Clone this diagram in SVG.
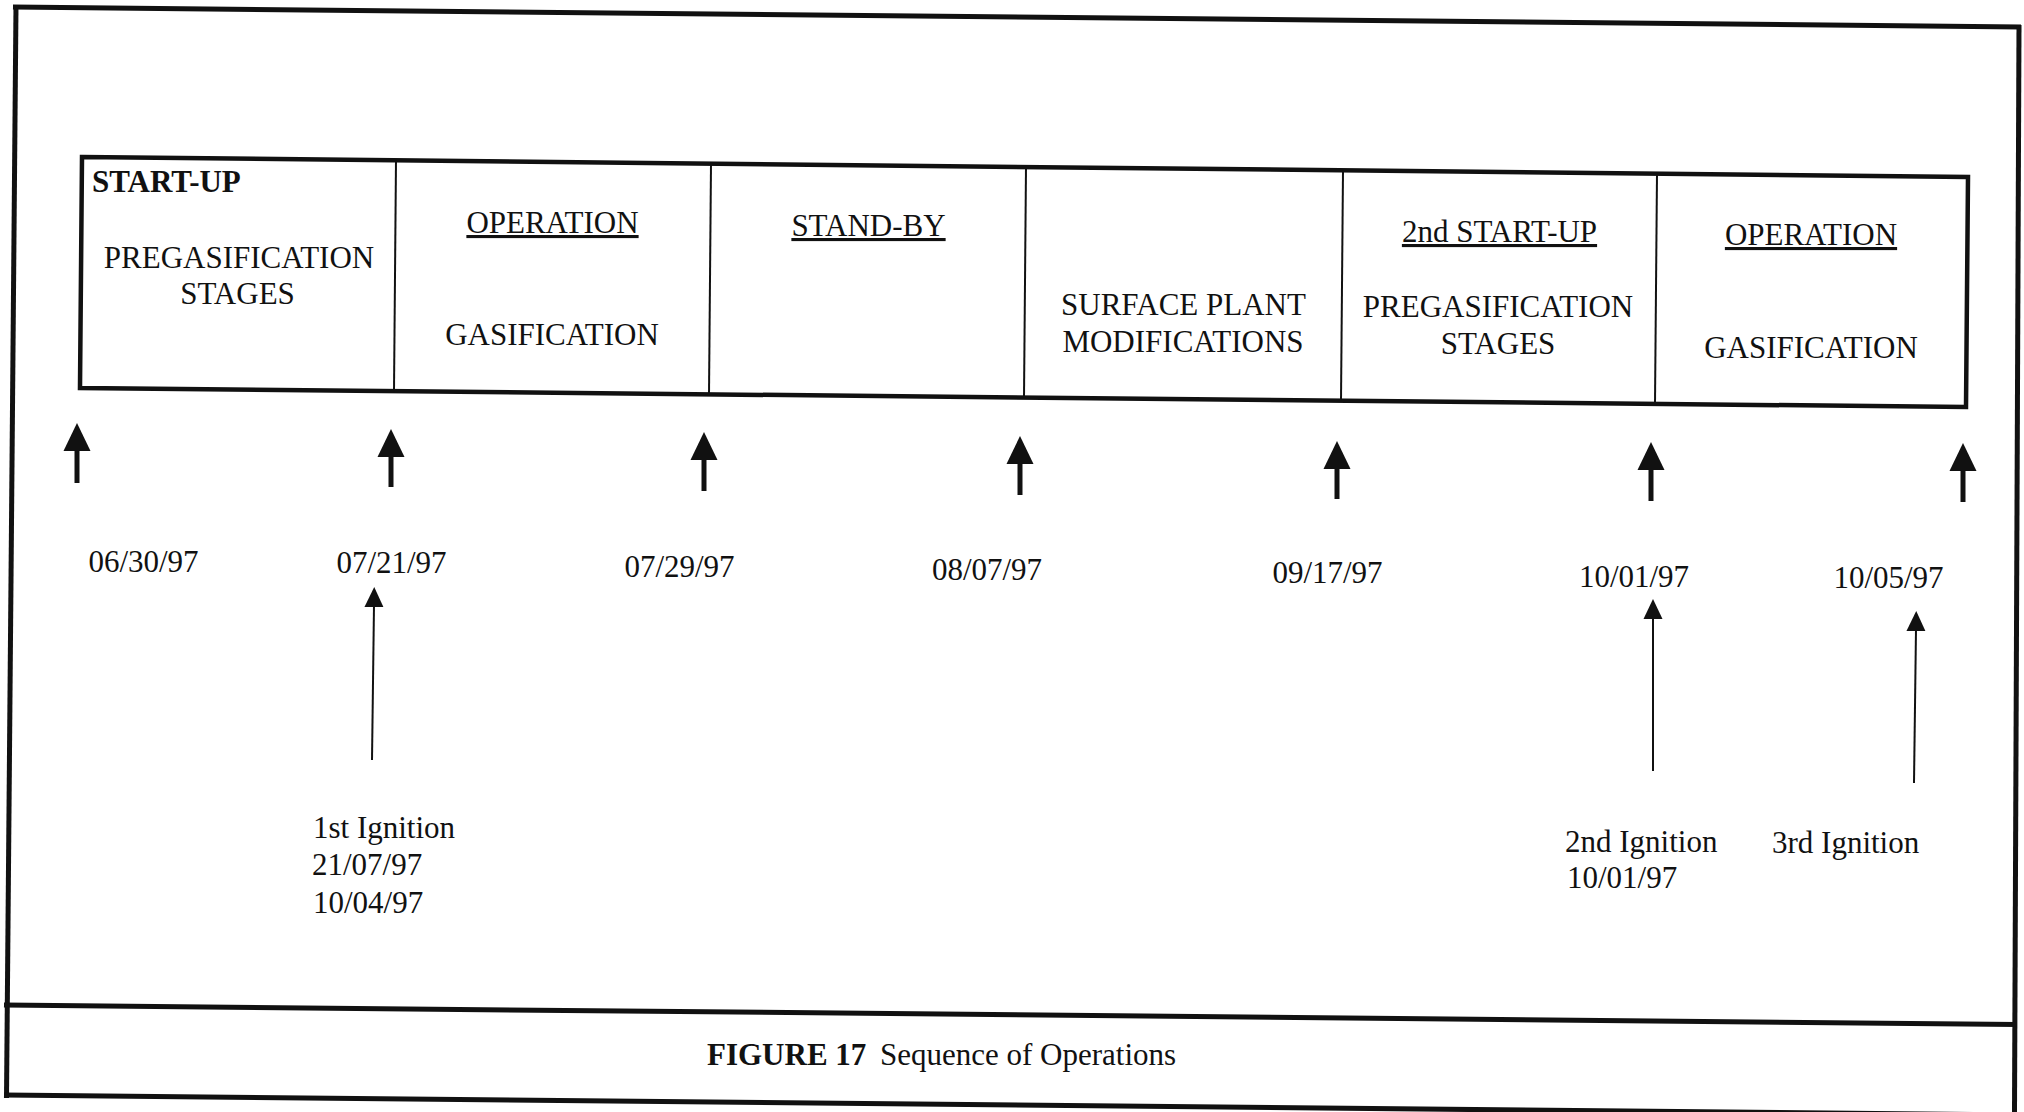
<svg xmlns="http://www.w3.org/2000/svg" width="2024" height="1112" viewBox="0 0 2024 1112">
<style>
  .t { font-family: "Liberation Serif", "Times New Roman", serif; font-size: 31px; fill: #111; }
  .c { text-anchor: middle; }
  .b { font-weight: bold; }
  .u { text-decoration: underline; }
  .frame { fill: none; stroke: #111; stroke-width: 5; }
  .box { fill: none; stroke: #111; stroke-width: 4.5; stroke-linejoin: miter; }
  .div { stroke: #111; stroke-width: 2; }
  .thick { stroke: #111; stroke-width: 5; fill: none; marker-end: url(#headThick); }
  .thin { stroke: #111; stroke-width: 2; fill: none; marker-end: url(#headThin); }
</style>
<defs>
  <marker id="headThick" viewBox="0 0 28 28" markerWidth="28" markerHeight="28" refX="2" refY="14" orient="auto" markerUnits="userSpaceOnUse">
    <path d="M0,0.5 L28,14 L0,27.5 Z" fill="#111"/>
  </marker>
  <marker id="headThin" viewBox="0 0 20 20" markerWidth="20" markerHeight="20" refX="2" refY="10" orient="auto" markerUnits="userSpaceOnUse">
    <path d="M0,0.5 L20,10 L0,19.5 Z" fill="#111"/>
  </marker>
</defs>
<rect width="2024" height="1112" fill="#fff"/>

<g id="frame">
  <line class="frame" x1="13" y1="7" x2="2021" y2="27"/>
  <line class="frame" x1="16" y1="5" x2="6.5" y2="1098"/>
  <line class="frame" x1="2019" y1="25" x2="2014.5" y2="1112"/>
  <line class="frame" x1="4" y1="1005" x2="2017" y2="1024.5"/>
  <line class="frame" x1="4" y1="1095" x2="2024" y2="1115"/>
</g>

<g id="timeline-box">
  <polygon class="box" points="82,157 1968,177 1966,407 80,388"/>
  <line class="div" x1="396" y1="160.3" x2="394" y2="391.2"/>
  <line class="div" x1="711" y1="163.7" x2="709" y2="394.3"/>
  <line class="div" x1="1026" y1="167" x2="1024" y2="397.5"/>
  <line class="div" x1="1343" y1="170.4" x2="1341" y2="400.7"/>
  <line class="div" x1="1657" y1="173.7" x2="1655" y2="403.9"/>
</g>

<g id="stage-startup">
  <text class="t b" x="92" y="192">START-UP</text>
  <text class="t c" x="239" y="268">PREGASIFICATION</text>
  <text class="t c" x="237.5" y="304">STAGES</text>
</g>
<g id="stage-operation-1">
  <text class="t c u" x="552.5" y="233">OPERATION</text>
  <text class="t c" x="552" y="345">GASIFICATION</text>
</g>
<g id="stage-standby">
  <text class="t c u" x="868.5" y="236">STAND-BY</text>
</g>
<g id="stage-surface">
  <text class="t c" x="1183.5" y="315">SURFACE PLANT</text>
  <text class="t c" x="1183" y="352">MODIFICATIONS</text>
</g>
<g id="stage-startup-2">
  <text class="t c u" x="1499.5" y="242">2nd START-UP</text>
  <text class="t c" x="1498" y="317">PREGASIFICATION</text>
  <text class="t c" x="1498" y="354">STAGES</text>
</g>
<g id="stage-operation-2">
  <text class="t c u" x="1811" y="245">OPERATION</text>
  <text class="t c" x="1811" y="358">GASIFICATION</text>
</g>

<g id="connectors">
  <line class="thick" x1="77" y1="483" x2="77" y2="449"/>
  <line class="thick" x1="391" y1="487" x2="391" y2="455"/>
  <line class="thick" x1="704" y1="491" x2="704" y2="458"/>
  <line class="thick" x1="1020" y1="495" x2="1020" y2="462"/>
  <line class="thick" x1="1337" y1="499" x2="1337" y2="467"/>
  <line class="thick" x1="1651" y1="501" x2="1651" y2="468"/>
  <line class="thick" x1="1963" y1="502" x2="1963" y2="469"/>
  <line class="thin" x1="372" y1="760" x2="374" y2="605"/>
  <line class="thin" x1="1653" y1="771" x2="1653" y2="617"/>
  <line class="thin" x1="1914" y1="783" x2="1916" y2="629"/>
</g>

<g id="dates">
  <text class="t c" x="143.5" y="572">06/30/97</text>
  <text class="t c" x="391.5" y="573">07/21/97</text>
  <text class="t c" x="679.5" y="577">07/29/97</text>
  <text class="t c" x="987" y="580">08/07/97</text>
  <text class="t c" x="1327.5" y="583">09/17/97</text>
  <text class="t c" x="1634" y="587">10/01/97</text>
  <text class="t c" x="1888.5" y="588">10/05/97</text>
</g>

<g id="ignition-1">
  <text class="t" x="313" y="838">1st Ignition</text>
  <text class="t" x="312" y="875">21/07/97</text>
  <text class="t" x="313" y="913">10/04/97</text>
</g>
<g id="ignition-2">
  <text class="t" x="1565" y="852">2nd Ignition</text>
  <text class="t" x="1567" y="888">10/01/97</text>
</g>
<g id="ignition-3">
  <text class="t" x="1772" y="853">3rd Ignition</text>
</g>

<g id="caption">
  <text class="t" y="1065"><tspan class="b" x="707">FIGURE 17</tspan><tspan x="880">Sequence of Operations</tspan></text>
</g>
</svg>
